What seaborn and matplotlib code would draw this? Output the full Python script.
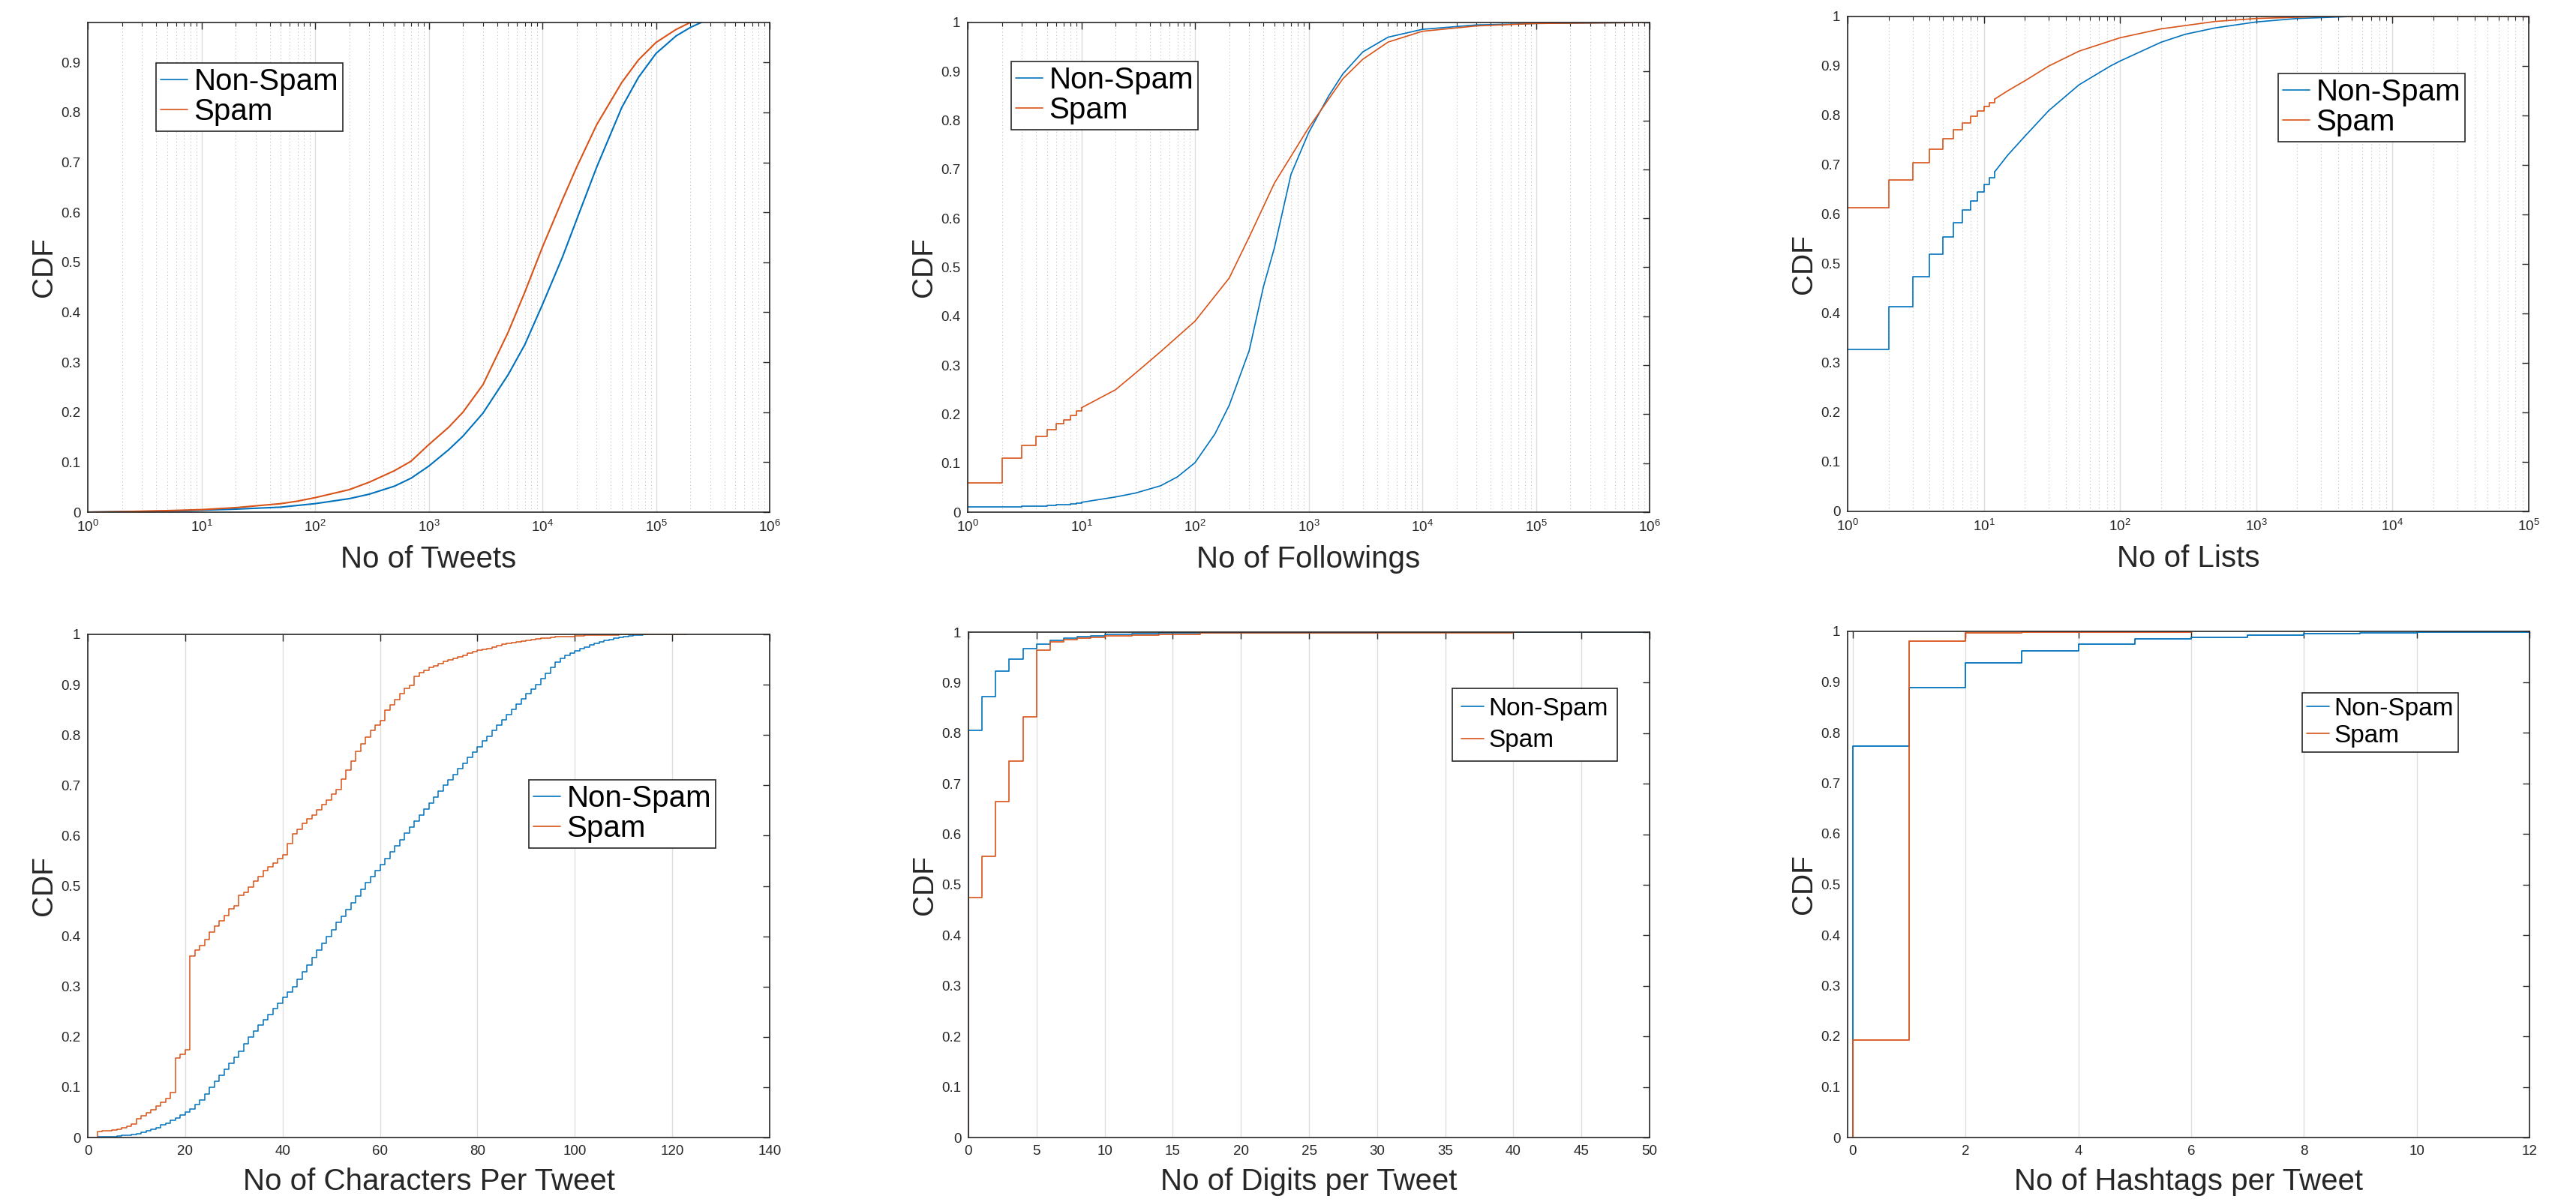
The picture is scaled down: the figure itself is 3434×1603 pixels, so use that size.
import numpy as np
import seaborn as sns
import matplotlib.pyplot as plt
from matplotlib.lines import Line2D
from matplotlib.ticker import LogLocator, MultipleLocator, FormatStrFormatter, NullFormatter

W, H, DPI = 3434, 1603, 100

BLUE = "#0072BD"
ORANGE = "#D95319"
INK = "#262626"
LABELS = ["Non-Spam", "Spam"]

# ---- No of Tweets (log x, smooth curves)
tweets_x_ns = [1, 2, 5, 10, 20, 50, 100, 200, 300, 500, 700, 1000, 1500, 2000, 3000,
               5000, 7000, 10000, 15000, 20000, 30000, 50000, 70000, 100000, 150000,
               200000, 250000]
tweets_ns = [0.0, 0.001, 0.002, 0.004, 0.006, 0.010, 0.017, 0.027, 0.036, 0.052, 0.068,
             0.092, 0.125, 0.152, 0.198, 0.275, 0.335, 0.415, 0.510, 0.585, 0.690, 0.810,
             0.870, 0.918, 0.953, 0.970, 0.980]
tweets_x_sp = [1, 2, 5, 10, 20, 50, 70, 100, 200, 300, 500, 700, 1000, 1500, 2000, 3000,
               5000, 7000, 10000, 15000, 20000, 30000, 50000, 70000, 100000, 150000, 200000]
tweets_sp = [0.0, 0.001, 0.003, 0.005, 0.009, 0.017, 0.022, 0.029, 0.045, 0.060, 0.083,
             0.102, 0.135, 0.170, 0.200, 0.255, 0.360, 0.440, 0.530, 0.625, 0.690, 0.775,
             0.860, 0.905, 0.940, 0.966, 0.980]

# ---- No of Followings (integer steps at the low end, then smooth)
follow_step_x = [1, 2, 3, 4, 5, 6, 7, 8, 9, 10]
follow_step_ns = [0.010, 0.011, 0.012, 0.013, 0.014, 0.015, 0.016, 0.017, 0.019, 0.020]
follow_step_sp = [0.059, 0.111, 0.137, 0.154, 0.168, 0.180, 0.189, 0.198, 0.206, 0.213]
follow_x_ns = [10, 20, 30, 50, 70, 100, 150, 200, 300, 400, 500, 700, 1000, 1500, 2000,
               3000, 5000, 10000, 30000, 100000, 1000000]
follow_ns = [0.020, 0.031, 0.039, 0.054, 0.072, 0.101, 0.160, 0.218, 0.330, 0.460, 0.540,
             0.690, 0.775, 0.850, 0.895, 0.940, 0.970, 0.986, 0.995, 0.998, 1.0]
follow_x_sp = [10, 20, 30, 50, 100, 200, 300, 500, 1000, 2000, 3000, 5000, 10000, 30000,
               100000, 1000000]
follow_sp = [0.213, 0.250, 0.284, 0.328, 0.390, 0.478, 0.562, 0.672, 0.785, 0.885, 0.925,
             0.960, 0.982, 0.993, 0.998, 1.0]

# ---- No of Lists
lists_step_x = [1, 2, 3, 4, 5, 6, 7, 8, 9, 10, 11, 12]
lists_step_ns = [0.328, 0.413, 0.474, 0.519, 0.555, 0.583, 0.609, 0.628, 0.645, 0.660,
                 0.674, 0.686]
lists_step_sp = [0.613, 0.669, 0.705, 0.732, 0.753, 0.771, 0.785, 0.798, 0.809, 0.818,
                 0.826, 0.833]
lists_x_ns = [12, 15, 20, 30, 50, 85, 100, 200, 300, 500, 1000, 2000, 5000, 100000]
lists_ns = [0.686, 0.720, 0.758, 0.810, 0.862, 0.900, 0.910, 0.948, 0.964, 0.977, 0.989,
            0.996, 1.0, 1.0]
lists_x_sp = [12, 15, 20, 30, 50, 100, 200, 500, 1000, 3000, 100000]
lists_sp = [0.833, 0.850, 0.870, 0.900, 0.930, 0.957, 0.975, 0.990, 0.996, 1.0, 1.0]

# ---- No of Characters per Tweet (one step per character count, from 0)
chars_ns = [0.000, 0.000, 0.001, 0.001, 0.002, 0.002, 0.003, 0.004, 0.005, 0.006,
            0.008, 0.010, 0.013, 0.016, 0.020, 0.025, 0.029, 0.034, 0.039, 0.044,
            0.050, 0.057, 0.066, 0.075, 0.087, 0.100, 0.112, 0.124, 0.136, 0.148,
            0.160, 0.172, 0.186, 0.200, 0.212, 0.223, 0.234, 0.245, 0.256, 0.267,
            0.278, 0.289, 0.300, 0.314, 0.329, 0.343, 0.357, 0.372, 0.386, 0.400,
            0.413, 0.427, 0.440, 0.453, 0.467, 0.480, 0.493, 0.506, 0.518, 0.530,
            0.543, 0.555, 0.568, 0.580, 0.592, 0.605, 0.617, 0.629, 0.641, 0.653,
            0.665, 0.677, 0.689, 0.700, 0.711, 0.722, 0.733, 0.744, 0.755, 0.766,
            0.777, 0.788, 0.798, 0.809, 0.819, 0.830, 0.841, 0.851, 0.862, 0.872,
            0.882, 0.891, 0.900, 0.912, 0.923, 0.934, 0.945, 0.953, 0.959, 0.963,
            0.967, 0.971, 0.975, 0.979, 0.982, 0.985, 0.988, 0.990, 0.992, 0.994,
            0.996, 0.997, 0.998, 0.999, 1.000, 1.000]
chars_sp = [0.000, 0.000, 0.012, 0.013, 0.014, 0.015, 0.017, 0.019, 0.022, 0.027,
            0.038, 0.043, 0.049, 0.055, 0.063, 0.070, 0.077, 0.089, 0.158, 0.166,
            0.175, 0.360, 0.373, 0.381, 0.393, 0.408, 0.420, 0.431, 0.441, 0.454,
            0.461, 0.481, 0.488, 0.498, 0.510, 0.519, 0.530, 0.538, 0.545, 0.555,
            0.562, 0.584, 0.604, 0.612, 0.624, 0.633, 0.641, 0.652, 0.661, 0.671,
            0.683, 0.692, 0.713, 0.730, 0.748, 0.767, 0.783, 0.796, 0.809, 0.819,
            0.828, 0.849, 0.860, 0.871, 0.882, 0.892, 0.898, 0.917, 0.924, 0.929,
            0.934, 0.938, 0.942, 0.946, 0.950, 0.953, 0.956, 0.959, 0.962, 0.965,
            0.968, 0.970, 0.972, 0.975, 0.977, 0.980, 0.982, 0.983, 0.985, 0.986,
            0.988, 0.989, 0.991, 0.992, 0.993, 0.994, 0.995, 0.995, 0.996, 0.996,
            0.997, 0.997, 0.998, 0.998, 0.998, 0.999, 0.999, 0.999, 0.999, 1.000,
            1.000, 1.000, 1.000, 1.000, 1.000, 1.000, 1.000, 1.000, 1.000, 1.000,
            1.000, 1.000, 1.000, 1.000]

# ---- No of Digits per Tweet (ecdf points, first point is the rise from 0)
digits_x_ns = [0, 0, 1, 2, 3, 4, 5, 6, 7, 8, 9, 10, 11, 12, 13, 14, 15, 20, 30, 50]
digits_ns = [0.0, 0.806, 0.872, 0.923, 0.947, 0.968, 0.976, 0.984, 0.988, 0.991, 0.993,
             0.995, 0.996, 0.997, 0.997, 0.998, 0.998, 0.999, 1.0, 1.0]
digits_x_sp = [0, 0, 1, 2, 3, 4, 5, 6, 7, 8, 9, 10, 12, 14, 17, 25, 40]
digits_sp = [0.0, 0.475, 0.556, 0.664, 0.745, 0.833, 0.964, 0.980, 0.985, 0.988, 0.990,
             0.992, 0.994, 0.996, 0.998, 0.999, 1.0]

# ---- No of Hashtags per Tweet
hash_x_ns = [0, 0, 1, 2, 3, 4, 5, 6, 7, 8, 9, 10, 12]
hash_ns = [0.0, 0.773, 0.889, 0.938, 0.961, 0.975, 0.985, 0.988, 0.992, 0.995, 0.997,
           0.999, 1.0]
hash_x_sp = [0, 0, 1, 2, 3, 6]
hash_sp = [0.0, 0.192, 0.981, 0.997, 0.999, 1.0]


sns.set_style("white")
plt.rcParams["font.family"] = ["Liberation Sans", "DejaVu Sans"]
plt.rcParams["mathtext.fontset"] = "custom"
plt.rcParams["mathtext.rm"] = "Liberation Sans"


def add_axes(fig, left, top, right, bottom):
    return fig.add_axes([left / W, 1 - bottom / H, (right - left) / W, (bottom - top) / H])


def draw(ax, x, y, color, lw, steps=False):
    sns.lineplot(x=x, y=y, ax=ax, color=color, lw=lw, estimator=None, sort=False,
                 drawstyle="steps-post" if steps else "default", legend=False)


def style(ax, box, xlabel, log, xlim, ylim, xstep=None):
    left, top, right, bottom = box
    if log:
        ax.set_xscale("log")
        ax.xaxis.set_major_locator(LogLocator(base=10, numticks=20))
        ax.xaxis.set_minor_locator(LogLocator(base=10, subs=np.arange(2, 10), numticks=40))
        ax.xaxis.set_minor_formatter(NullFormatter())
        ax.grid(True, axis="x", which="minor", color=INK, alpha=0.3, lw=0.8, ls=(0, (1, 3)))
    else:
        ax.xaxis.set_major_locator(MultipleLocator(xstep))
    ax.grid(True, axis="x", which="major", color=INK, alpha=0.15, lw=1.0, ls="-")
    ax.set_axisbelow(True)
    ax.set_xlim(*xlim)
    ax.set_ylim(*ylim)
    ax.yaxis.set_major_locator(MultipleLocator(0.1))
    ax.yaxis.set_major_formatter(FormatStrFormatter("%g"))
    ax.tick_params(which="major", direction="in", length=6.5, width=1.0, color=INK,
                   labelcolor=INK, labelsize=13.5, pad=7, top=True, right=True)
    ax.tick_params(which="minor", direction="in", length=3.5, width=0.8, color=INK,
                   top=True, right=True)
    for sp in ax.spines.values():
        sp.set_color(INK)
        sp.set_linewidth(1.2)
    axw, axh = right - left, bottom - top
    ax.set_xlabel(xlabel, fontsize=29, color=INK)
    ax.set_ylabel("CDF", fontsize=28, color=INK)
    ax.xaxis.set_label_coords(0.5, -(44 if top < 400 else 40) / axh)
    ax.yaxis.set_label_coords(-40 / axw, 0.5)


def legend(ax, x_px, y_px, size, pad, spacing):
    handles = [Line2D([], [], color=BLUE, lw=1.2), Line2D([], [], color=ORANGE, lw=1.2)]
    leg = ax.legend(handles, LABELS, loc="upper left", bbox_to_anchor=(x_px / W, 1 - y_px / H),
                    bbox_transform=ax.figure.transFigure, fontsize=size, frameon=True,
                    fancybox=False, borderpad=pad, borderaxespad=0, labelspacing=spacing,
                    handlelength=0.9, handletextpad=0.2)
    frame = leg.get_frame()
    frame.set_edgecolor(INK)
    frame.set_linewidth(1.2)
    frame.set_alpha(1)
    for t in leg.get_texts():
        t.set_color("black")


fig = plt.figure(figsize=(W / DPI, H / DPI), dpi=DPI)

# top row
b1 = (117, 30, 1026, 683)
ax1 = add_axes(fig, *b1)
draw(ax1, tweets_x_ns, tweets_ns, BLUE, 1.5)
draw(ax1, tweets_x_sp, tweets_sp, ORANGE, 1.5)
style(ax1, b1, "No of Tweets", True, (1, 1e6), (0, 0.98))
legend(ax1, 208, 84, 29, 0.15, 0.06)

b2 = (1290, 30, 2199, 683)
ax2 = add_axes(fig, *b2)
draw(ax2, follow_step_x, follow_step_ns, BLUE, 1.2, steps=True)
draw(ax2, follow_x_ns, follow_ns, BLUE, 1.2)
draw(ax2, follow_step_x, follow_step_sp, ORANGE, 1.2, steps=True)
draw(ax2, follow_x_sp, follow_sp, ORANGE, 1.2)
style(ax2, b2, "No of Followings", True, (1, 1e6), (0, 1))
legend(ax2, 1348, 82, 29, 0.15, 0.06)

b3 = (2463, 22, 3371, 682)
ax3 = add_axes(fig, *b3)
draw(ax3, lists_step_x, lists_step_ns, BLUE, 1.2, steps=True)
draw(ax3, lists_x_ns, lists_ns, BLUE, 1.2)
draw(ax3, lists_step_x, lists_step_sp, ORANGE, 1.2, steps=True)
draw(ax3, lists_x_sp, lists_sp, ORANGE, 1.2)
style(ax3, b3, "No of Lists", True, (1, 1e5), (0, 1))
legend(ax3, 3037, 98, 29, 0.15, 0.06)

# bottom row
b4 = (117, 846, 1026, 1517)
ax4 = add_axes(fig, *b4)
draw(ax4, np.arange(len(chars_ns)), chars_ns, BLUE, 1.1, steps=True)
draw(ax4, np.arange(len(chars_sp)), chars_sp, ORANGE, 1.1, steps=True)
style(ax4, b4, "No of Characters Per Tweet", False, (0, 140), (0, 1), xstep=20)
legend(ax4, 705, 1040, 29, 0.15, 0.06)

b5 = (1291, 843, 2199, 1517)
ax5 = add_axes(fig, *b5)
draw(ax5, digits_x_ns, digits_ns, BLUE, 1.2, steps=True)
draw(ax5, digits_x_sp, digits_sp, ORANGE, 1.2, steps=True)
style(ax5, b5, "No of Digits per Tweet", False, (0, 50), (0, 1), xstep=5)
legend(ax5, 1936, 918, 24, 0.35, 0.35)

b6 = (2463, 842, 3372, 1517)
ax6 = add_axes(fig, *b6)
draw(ax6, hash_x_ns, hash_ns, BLUE, 1.3, steps=True)
draw(ax6, hash_x_sp, hash_sp, ORANGE, 1.3, steps=True)
style(ax6, b6, "No of Hashtags per Tweet", False, (-0.09, 12), (0, 1), xstep=2)
legend(ax6, 3069, 924, 24, 0.18, 0.15)

fig.savefig("out.png", dpi=DPI, facecolor="white")
